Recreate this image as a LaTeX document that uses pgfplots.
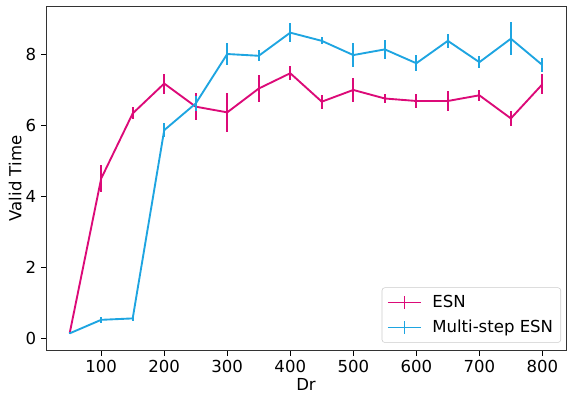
\documentclass[border=0pt]{standalone}
\usepackage{pgfplots}
\pgfplotsset{compat=1.18}
\usepackage{fontspec}
\setmainfont{DejaVu Sans}
\definecolor{esn}{RGB}{220,10,120}
\definecolor{mesn}{RGB}{30,165,225}
\begin{document}
\begin{tikzpicture}[x=1pt,y=1pt]
\begin{axis}[
  scale only axis,
  width=374pt, height=248pt,
  xmin=12.5, xmax=837.5,
  ymin=-0.34, ymax=9.35,
  xtick={100,200,300,400,500,600,700,800},
  ytick={0,2,4,6,8},
  tick align=outside,
  tick pos=left,
  major tick length=3.5pt,
  tick style={black, line width=0.6pt},
  axis line style={black!80, line width=0.6pt},
  /pgf/number format/assume math mode=true,
  ticklabel style={font=\fontsize{11.9}{14}\selectfont},
  label style={font=\fontsize{11.9}{14}\selectfont},
  xlabel={Dr}, ylabel={Valid Time},
  xlabel style={yshift=3pt},
  ylabel style={yshift=-4pt},
  legend cell align=left,
  legend style={at={(1,0)}, anchor=south east, xshift=-3.6pt, yshift=5.8pt,
    draw=black!20, rounded corners=2pt, fill=white, fill opacity=0.8, text opacity=1,
    font=\fontsize{11.9}{14}\selectfont, row sep=3.5pt, inner sep=3.5pt},
  legend image code/.code={
    \path[draw=none, fill=none] (0pt,-6pt) rectangle (30pt,6pt);
    \draw[#1, line width=1.35pt] (0pt,0pt) -- (24pt,0pt);
    \draw[#1, line width=1.35pt] (12pt,-4.5pt) -- (12pt,4.5pt);
  },
]
\addplot[esn, line width=1.35pt, mark=none,
  error bars/.cd, y dir=both, y explicit, error mark=none,
  error bar style={line width=1.35pt}]
  table[x=x, y=y, y error=e] {
x y e
50 0.15 0.03
100 4.50 0.39
150 6.33 0.17
200 7.17 0.28
250 6.52 0.38
300 6.36 0.54
350 7.03 0.38
400 7.46 0.20
450 6.66 0.20
500 6.99 0.33
550 6.75 0.14
600 6.68 0.19
650 6.68 0.28
700 6.84 0.15
750 6.19 0.20
800 7.15 0.28
};
\addlegendentry{ESN}
\addplot[mesn, line width=1.35pt, mark=none,
  error bars/.cd, y dir=both, y explicit, error mark=none,
  error bar style={line width=1.35pt}]
  table[x=x, y=y, y error=e] {
x y e
50 0.15 0.03
100 0.53 0.09
150 0.57 0.08
200 5.86 0.20
250 6.61 0.20
300 8.00 0.30
350 7.95 0.15
400 8.60 0.27
450 8.37 0.10
500 7.97 0.33
550 8.13 0.26
600 7.74 0.23
650 8.37 0.20
700 7.77 0.17
750 8.43 0.47
800 7.69 0.20
};
\addlegendentry{Multi-step ESN}
\end{axis}
\pgfresetboundingbox
\path ([xshift=-33.1pt, yshift=-33.8pt]current axis.south west) rectangle ([xshift=0.7pt, yshift=4.3pt]current axis.north east);
\end{tikzpicture}
\end{document}
